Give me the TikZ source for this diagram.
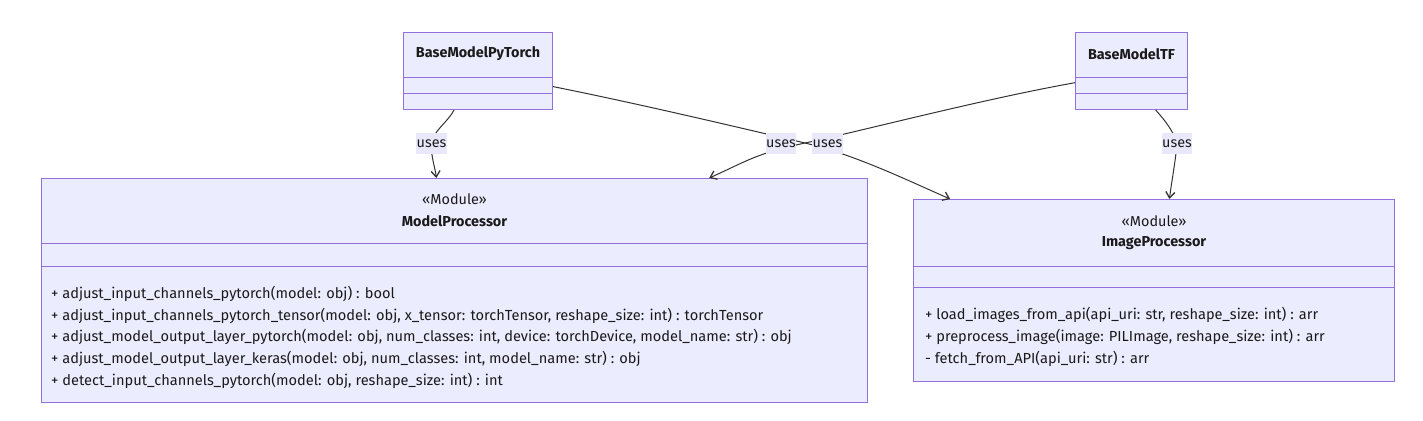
\documentclass[tikz,border=0pt]{standalone}
\usepackage{fontspec}
\setmainfont{Fira Sans}
\usepackage{tikz}
\usetikzlibrary{arrows.meta,calc}
\definecolor{clsfill}{HTML}{ECECFF}
\definecolor{clsborder}{HTML}{9370DB}
\definecolor{edgegray}{HTML}{333333}
\definecolor{lblfill}{HTML}{E8E8FA}
\definecolor{txt}{HTML}{1A1A1A}
\tikzset{
  cls/.style={draw=clsborder, fill=clsfill, line width=1pt, inner sep=0pt, anchor=north west},
  divider/.style={draw=clsborder, line width=1pt},
  uses/.style={draw=edgegray, line width=1pt, -{Straight Barb[length=6pt,width=9pt,line width=1.3pt]}},
  lbl/.style={fill=lblfill, inner xsep=0.5pt, inner ysep=0pt, minimum height=21pt, text=txt, font=\fontsize{14.4}{16}\selectfont},
  title/.style={text=txt, inner sep=0pt, font=\fontsize{14.4}{16}\selectfont\bfseries},
  stereo/.style={text=txt, inner sep=0pt, font=\fontsize{14.4}{16}\selectfont},
  method/.style={anchor=west, text=txt, inner sep=0pt, font=\fontsize{14.6}{16}\selectfont},
}
\begin{document}
\begin{tikzpicture}[x=1pt,y=-1pt]
	\useasboundingbox (0,0) rectangle (1423,420);
	
	% class boxes
	\node[cls, minimum width=149pt, minimum height=77pt] (bpt) at (403,32) {};
	\node[cls, minimum width=112pt, minimum height=77pt] (btf) at (1075,32) {};
	\node[cls, minimum width=826pt, minimum height=224pt] (mp) at (41,178) {};
	\node[cls, minimum width=481pt, minimum height=182pt] (ip) at (913,199) {};
	
	\draw[divider] ($(bpt.north west)+(0,45)$) -- ($(bpt.north east)+(0,45)$);
	\draw[divider] ($(bpt.north west)+(0,61)$) -- ($(bpt.north east)+(0,61)$);
	\draw[divider] ($(btf.north west)+(0,45)$) -- ($(btf.north east)+(0,45)$);
	\draw[divider] ($(btf.north west)+(0,61)$) -- ($(btf.north east)+(0,61)$);
	\draw[divider] ($(mp.north west)+(0,65)$) -- ($(mp.north east)+(0,65)$);
	\draw[divider] ($(mp.north west)+(0,88)$) -- ($(mp.north east)+(0,88)$);
	\draw[divider] ($(ip.north west)+(0,67)$) -- ($(ip.north east)+(0,67)$);
	\draw[divider] ($(ip.north west)+(0,88)$) -- ($(ip.north east)+(0,88)$);
	
	% class names
	\node[title] (bptName) at ($(bpt.north)+(0,22)$) {BaseModelPyTorch};
	\node[title] (btfName) at ($(btf.north)+(0,22)$) {BaseModelTF};
	\node[stereo] (mpStereo) at ($(mp.north)+(0,21)$) {«Module»};
	\node[title] (mpName) at ($(mp.north)+(0,43)$) {ModelProcessor};
	\node[stereo] (ipStereo) at ($(ip.north)+(0,22)$) {«Module»};
	\node[title] (ipName) at ($(ip.north)+(0,44)$) {ImageProcessor};
	
	% methods
	\node[method] (mpA) at ($(mp.north west)+(10,116)$) {+ adjust\_input\_channels\_pytorch(model: obj) : bool};
	\node[method] (mpB) at ($(mp.north west)+(10,137.6)$) {+ adjust\_input\_channels\_pytorch\_tensor(model: obj, x\_tensor: torchTensor, reshape\_size: int) : torchTensor};
	\node[method] (mpC) at ($(mp.north west)+(10,159.2)$) {+ adjust\_model\_output\_layer\_pytorch(model: obj, num\_classes: int, device: torchDevice, model\_name: str) : obj};
	\node[method] (mpD) at ($(mp.north west)+(10,180.8)$) {+ adjust\_model\_output\_layer\_keras(model: obj, num\_classes: int, model\_name: str) : obj};
	\node[method] (mpE) at ($(mp.north west)+(10,202.4)$) {+ detect\_input\_channels\_pytorch(model: obj, reshape\_size: int) : int};
	
	\node[method] (ipA) at ($(ip.north west)+(12,116)$) {+ load\_images\_from\_api(api\_uri: str, reshape\_size: int) : arr};
	\node[method] (ipB) at ($(ip.north west)+(12,138)$) {+ preprocess\_image(image: PILImage, reshape\_size: int) : arr};
	\node[method] (ipC) at ($(ip.north west)+(12,160)$) {- fetch\_from\_API(api\_uri: str) : arr};
	
	% connectors
	\coordinate (u1) at (431.5,143.5);
	\coordinate (cross) at (805,143);
	\coordinate (u4) at (1177,143.5);
	
	\draw[uses] ($(bpt.south west)!0.34!(bpt.south east)$) .. controls +(-6,12) and +(1,-12) .. (u1)
		.. controls +(-1,12) and +(-1,-10) .. ($(mp.north west)!0.478!(mp.north east)$);
	\draw[uses] ($(bpt.north east)!0.70!(bpt.south east)$) .. controls +(90,18) and +(-60,-14) .. (cross)
		.. controls +(50,12) and +(-50,-22) .. ($(ip.north west)!0.077!(ip.north east)$);
	\draw[uses] ($(btf.north west)!0.65!(btf.south west)$) .. controls +(-90,16) and +(60,-13) .. (cross)
		.. controls +(-50,11) and +(40,-18) .. ($(mp.north west)!0.808!(mp.north east)$);
	\draw[uses] ($(btf.south west)!0.714!(btf.south east)$) .. controls +(8,9) and +(-3,-12) .. (u4)
		.. controls +(-1,14) and +(2,-16) .. ($(ip.north west)!0.532!(ip.north east)$);
	
	% edge labels
	\node[lbl] (lbl1) at (u1) {uses};
	\node[lbl] (lbl2) at (781,143.5) {uses};
	\node[lbl] (lbl3) at (827.5,143.5) {uses};
	\node[lbl] (lbl4) at (u4) {uses};
\end{tikzpicture}
\end{document}
